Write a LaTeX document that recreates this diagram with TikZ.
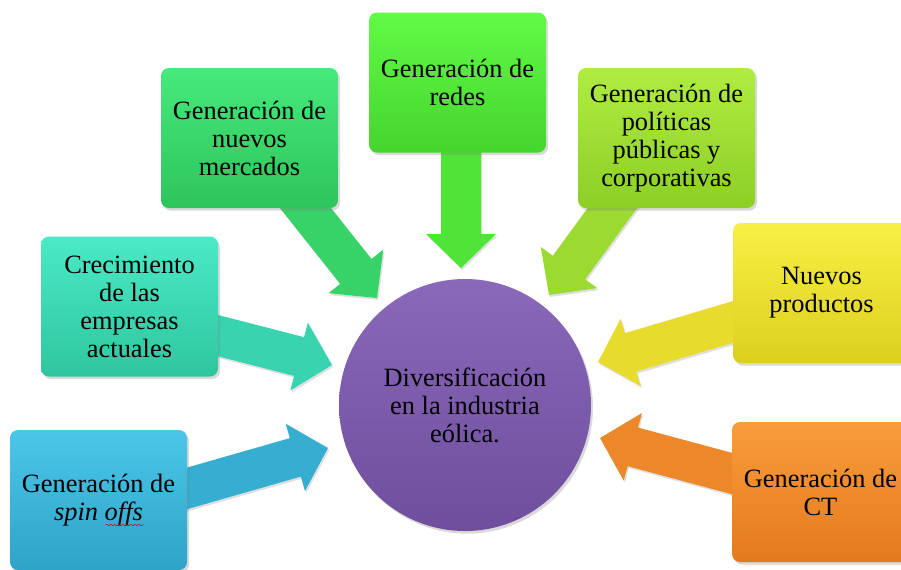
\documentclass[tikz,border=0pt]{standalone}
\usepackage{fontspec}
\setmainfont{Liberation Serif}
\usetikzlibrary{calc,shadows,backgrounds,decorations.pathmorphing}

\definecolor{spinT}{HTML}{4BC6E8}\definecolor{spinB}{HTML}{2DA4C8}
\definecolor{crecT}{HTML}{4AEAC6}\definecolor{crecB}{HTML}{2EC69F}
\definecolor{mercT}{HTML}{47E97C}\definecolor{mercB}{HTML}{2DC55B}
\definecolor{redT}{HTML}{62FA46}\definecolor{redB}{HTML}{45D52E}
\definecolor{polT}{HTML}{B0EC42}\definecolor{polB}{HTML}{8DCF25}
\definecolor{nuevT}{HTML}{F8F044}\definecolor{nuevB}{HTML}{DCCF1E}
\definecolor{ctT}{HTML}{F99C3C}\definecolor{ctB}{HTML}{E47A1E}
\definecolor{divT}{HTML}{8A68BA}\definecolor{divB}{HTML}{6E4E9D}

\newcommand\shaftw{15pt}
\newcommand\headw{26.25pt}
\newcommand\headl{25.5pt}
% fat arrow from #1 to #2
\newcommand\blockarrow[3]{%
  \coordinate (ba) at ($(#2)!\headl!(#1)$);
  \fill[fill=#3,arrowshadow] ($(#1)!\shaftw!90:(#2)$) -- ($(ba)!\shaftw!90:(#2)$)
    -- ($(ba)!\headw!90:(#2)$) -- (#2) -- ($(ba)!\headw!-90:(#2)$)
    -- ($(ba)!\shaftw!-90:(#2)$) -- ($(#1)!\shaftw!-90:(#2)$) -- cycle;}

\begin{document}
\begin{tikzpicture}[x=0.75pt,y=-0.75pt,
  font=\fontsize{19.8}{21}\selectfont,
  box/.style={rounded corners=6pt, minimum width=132.75pt, minimum height=105pt,
    align=center, inner sep=2pt,
    drop shadow={shadow xshift=1.5pt, shadow yshift=-2pt, opacity=.3}},
  arrowshadow/.style={drop shadow={shadow xshift=1pt, shadow yshift=-1.5pt, opacity=.25}}]
\useasboundingbox (0,0) rectangle (901,569);

% centre
\node[circle, minimum size=189pt, align=center, top color=divT, bottom color=divB,
  drop shadow={shadow xshift=1.5pt, shadow yshift=-2pt, opacity=.3}]
  (diver) at (465,405) {Diversificación\\en la industria\\eólica.};

% boxes
\node[box, top color=spinT, bottom color=spinB] (spin) at (98.5,500) {Generación de\\\textit{spin offs}};
\node[box, top color=crecT, bottom color=crecB] (crec) at (129.5,306.5) {Crecimiento\\de las\\empresas\\actuales};
\node[box, top color=mercT, bottom color=mercB] (merc) at (249.5,138) {Generación de\\nuevos\\mercados};
\node[box, top color=redT, bottom color=redB] (redes) at (457.5,82.5) {Generación de\\redes};
\node[box, top color=polT, bottom color=polB] (pol) at (666.5,138) {Generación de\\políticas\\públicas y\\corporativas};
\node[box, top color=nuevT, bottom color=nuevB] (nuev) at (821.5,293) {Nuevos\\productos};
\node[box, top color=ctT, bottom color=ctB] (ct) at (820.5,492) {Generación de\\CT};

% spell check mark
\draw[red!80!black, line width=.4pt, decorate, decoration={snake, amplitude=.5pt, segment length=3pt}]
  ($(spin)+(7,25)$) -- ($(spin)+(45,25)$);

% arrow tips and tails
\coordinate (tipspin) at (328,448);  \coordinate (tailspin) at (136,503);
\coordinate (tipcrec) at (332,365);  \coordinate (tailcrec) at (138,315);
\coordinate (tipmerc) at (377,298);  \coordinate (tailmerc) at (253,142);
\coordinate (tipred) at (461,268);   \coordinate (tailred) at (461,100);
\coordinate (tippol) at (549,295);   \coordinate (tailpol) at (667,133);
\coordinate (tipnuev) at (598,362);  \coordinate (tailnuev) at (790,305);
\coordinate (tipct) at (600,438);    \coordinate (tailct) at (793,490);

\begin{scope}[on background layer]
\blockarrow{tailspin}{tipspin}{spinB!70!spinT}
\blockarrow{tailcrec}{tipcrec}{crecB!60!crecT}
\blockarrow{tailmerc}{tipmerc}{mercB!60!mercT}
\blockarrow{tailred}{tipred}{redB!60!redT}
\blockarrow{tailpol}{tippol}{polB!60!polT}
\blockarrow{tailnuev}{tipnuev}{nuevB!60!nuevT}
\blockarrow{tailct}{tipct}{ctB!60!ctT}
\end{scope}
\end{tikzpicture}
\end{document}
